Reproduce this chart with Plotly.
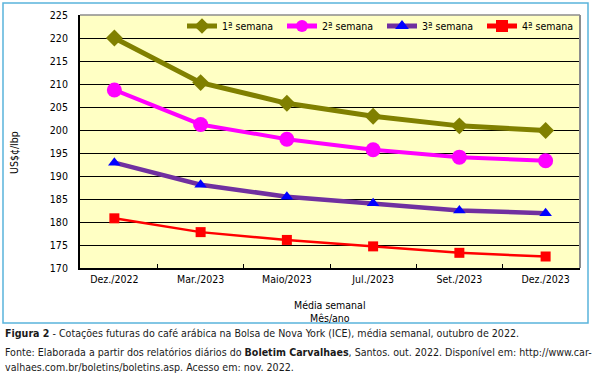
import plotly.graph_objects as go

categories = ["Dez./2022", "Mar./2023", "Maio/2023", "Jul./2023", "Set./2023", "Dez./2023"]
semana1 = [220.0, 210.3, 205.8, 203.0, 200.9, 199.9]
semana2 = [208.7, 201.2, 198.0, 195.7, 194.1, 193.3]
semana3 = [192.9, 188.1, 185.5, 184.1, 182.5, 181.9]
semana4 = [180.8, 177.8, 176.1, 174.7, 173.3, 172.5]
series_names = ["1ª semana", "2ª semana", "3ª semana", "4ª semana"]
y_ticks = [170, 175, 180, 185, 190, 195, 200, 205, 210, 215, 220, 225]

FONT = "DejaVu Sans Condensed, DejaVu Sans, sans-serif"
FS = 10.5

fig = go.Figure()
fig.add_trace(go.Scatter(x=categories, y=semana1, name=series_names[0], mode="lines+markers",
                         line=dict(color="#808000", width=5),
                         marker=dict(symbol="diamond", size=13, color="#808000")))
fig.add_trace(go.Scatter(x=categories, y=semana2, name=series_names[1], mode="lines+markers",
                         line=dict(color="#FF00FF", width=4),
                         marker=dict(symbol="circle", size=15, color="#FF00FF")))
fig.add_trace(go.Scatter(x=categories, y=semana3, name=series_names[2], mode="lines+markers",
                         line=dict(color="#7030A0", width=4.5),
                         marker=dict(symbol="triangle-up", size=11, color="#0000FF")))
fig.add_trace(go.Scatter(x=categories, y=semana4, name=series_names[3], mode="lines+markers",
                         line=dict(color="#FF0000", width=2.5),
                         marker=dict(symbol="square", size=10, color="#FF0000")))

PL, PR, PT, PB = 80, 580, 15, 268
W, H = 602, 389
ph = PB - PT
pw = PR - PL

def px(x):
    return (x - PL) / pw

def py(y):
    return (PB - y) / ph

shapes = [
    dict(type="rect", xref="paper", yref="paper", x0=px(3), x1=px(588), y0=py(323), y1=py(3),
         line=dict(color="#5AB4DC", width=1.5), fillcolor="rgba(0,0,0,0)", layer="below"),
    dict(type="line", xref="paper", yref="paper", x0=1, x1=1, y0=0, y1=1,
         line=dict(color="#8C8C8C", width=2), layer="above"),
    dict(type="line", xref="paper", yref="paper", x0=0, x1=1, y0=1, y1=1,
         line=dict(color="#8C8C8C", width=1.5), layer="above"),
]

CAP = 10.6
annotations = [
    dict(xref="paper", yref="paper", x=px(3), y=py(333), xanchor="left", yanchor="middle",
         showarrow=False, align="left",
         text="<b>Figura 2</b> - Cotações futuras do café arábica na Bolsa de Nova York (ICE), média semanal, outubro de 2022.",
         font=dict(family=FONT, size=CAP, color="#1a1a1a")),
    dict(xref="paper", yref="paper", x=px(3), y=py(352), xanchor="left", yanchor="middle",
         showarrow=False, align="left",
         text="Fonte: Elaborada a partir dos relatórios diários do <b>Boletim Carvalhaes</b>, Santos. out. 2022. Disponível em: http://www.car-",
         font=dict(family=FONT, size=CAP, color="#1a1a1a")),
    dict(xref="paper", yref="paper", x=px(3), y=py(367), xanchor="left", yanchor="middle",
         showarrow=False, align="left",
         text="valhaes.com.br/boletins/boletins.asp. Acesso em: nov. 2022.",
         font=dict(family=FONT, size=CAP, color="#1a1a1a")),
    dict(xref="paper", yref="paper", x=0.5, y=py(305), xanchor="center", yanchor="middle",
         showarrow=False, text="Média semanal", font=dict(family=FONT, size=FS, color="black")),
    dict(xref="paper", yref="paper", x=0.5, y=py(318), xanchor="center", yanchor="middle",
         showarrow=False, text="Mês/ano", font=dict(family=FONT, size=FS, color="black")),
    dict(xref="paper", yref="paper", x=px(14), y=py(153), xanchor="center", yanchor="middle",
         showarrow=False, text="US$¢/lbp", textangle=-90, font=dict(family=FONT, size=FS, color="black")),
]

fig.update_layout(
    width=W, height=H,
    margin=dict(l=PL, r=W - PR, t=PT, b=H - PB, autoexpand=False),
    paper_bgcolor="white",
    plot_bgcolor="#FFFFC4",
    font=dict(family=FONT, size=FS, color="black"),
    shapes=shapes,
    annotations=annotations,
    legend=dict(orientation="h", x=px(182), y=py(26), xanchor="left", yanchor="middle",
                bgcolor="rgba(0,0,0,0)", font=dict(family=FONT, size=FS),
                entrywidth=55, entrywidthmode="pixels", itemwidth=30, itemsizing="constant",
                tracegroupgap=0),
    xaxis=dict(type="category", categoryorder="array", categoryarray=categories,
               showgrid=False, showline=True, linecolor="black", linewidth=2,
               ticks="inside", ticklen=4, tickcolor="black", tickson="boundaries",
               tickfont=dict(family=FONT, size=FS), automargin=False,
               zeroline=False, fixedrange=True),
    yaxis=dict(range=[170, 225], tickvals=y_ticks, showgrid=True, gridcolor="black", gridwidth=1,
               showline=True, linecolor="black", linewidth=2, ticks="", zeroline=False,
               tickfont=dict(family=FONT, size=FS), automargin=False, ticklabelstandoff=8,
               fixedrange=True),
)

fig.write_html("out.html", config={"displayModeBar": False},
               post_script="document.body.style.margin='0';")
